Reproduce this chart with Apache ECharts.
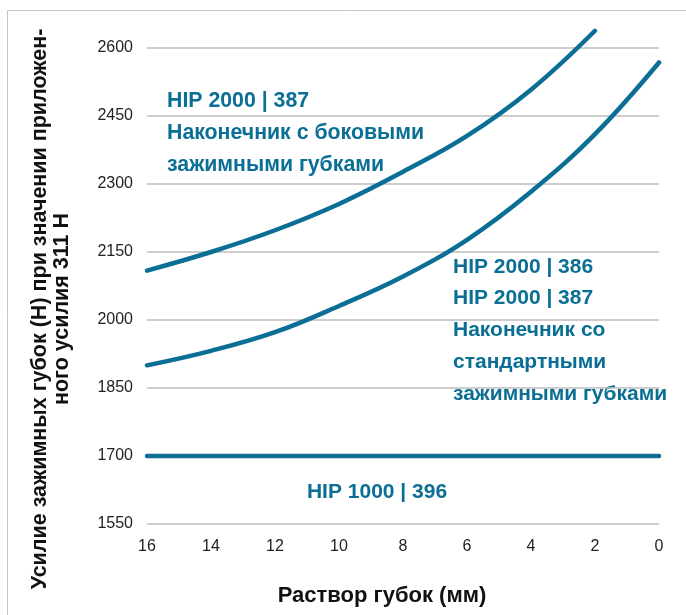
<!DOCTYPE html>
<html>
<head>
<meta charset="utf-8">
<script src="https://cdn.jsdelivr.net/npm/echarts@6/dist/echarts.min.js"></script>
<style>
html,body{margin:0;padding:0;background:#fff;}
#chart{width:686px;height:615px;}
</style>
</head>
<body>
<div id="chart"></div>
<script>
// Data
const xValues = [16, 14, 12, 10, 8, 6, 4, 2, 0];
const yTicks = [1550, 1700, 1850, 2000, 2150, 2300, 2450, 2600];
const sideJaws387 = [2109, 2150, 2198, 2256, 2327, 2406, 2508, 2638];        // x = 16..2
const standardJaws = [1900, 1932, 1973, 2031, 2096, 2177, 2283, 2410, 2568]; // x = 16..0
const hip1000 = [1700, 1700, 1700, 1700, 1700, 1700, 1700, 1700, 1700];      // x = 16..0

const yAxisTitle = 'Усилие зажимных губок (Н) при значении приложен-\nного усилия 311 Н';
const xAxisTitle = 'Раствор губок (мм)';
const label1 = ['HIP 2000 | 387', 'Наконечник с боковыми', 'зажимными губками'];
const label2 = ['HIP 2000 | 386', 'HIP 2000 | 387', 'Наконечник со', 'стандартными', 'зажимными губками'];
const label3 = ['HIP 1000 | 396'];

const BLUE = '#0b6e95';
const FONT = '"Liberation Sans", Arial, Helvetica, sans-serif';

function pairs(vals) { return vals.map((v, i) => [xValues[i], v]); }

const chart = echarts.init(document.getElementById('chart'), null, {renderer: 'canvas'});

const lineStyle = {color: BLUE, width: 4.5, cap: 'round', join: 'round'};

chart.setOption({
  animation: false,
  backgroundColor: '#fff',
  grid: {left: 147, right: 27, top: 48, bottom: 91, containLabel: false},
  xAxis: {
    type: 'value', min: 0, max: 16, interval: 2, inverse: true,
    axisLine: {show: false}, axisTick: {show: false}, splitLine: {show: false},
    axisLabel: {color: '#222', fontSize: 16, fontFamily: FONT, margin: 15, formatter: v => String(v)}
  },
  yAxis: {
    type: 'value', min: yTicks[0], max: yTicks[yTicks.length - 1], interval: 150,
    axisLine: {show: false}, axisTick: {show: false},
    splitLine: {lineStyle: {color: '#bdbdbd', width: 1.5}},
    axisLabel: {color: '#222', fontSize: 16, fontFamily: FONT, margin: 14, formatter: v => String(v)}
  },
  series: [
    {type: 'line', data: pairs(sideJaws387), smooth: 0.4, symbol: 'none', clip: false, lineStyle: lineStyle},
    {type: 'line', data: pairs(standardJaws), smooth: 0.4, symbol: 'none', clip: false, lineStyle: lineStyle},
    {type: 'line', data: pairs(hip1000), symbol: 'none', clip: false, lineStyle: lineStyle}
  ],
  graphic: [
    {type: 'rect', shape: {x: 7.5, y: 10.5, width: 700, height: 620}, style: {fill: 'none', stroke: '#c8c8c8', lineWidth: 1}, silent: true},
    {type: 'text', x: 51, y: 309, rotation: Math.PI / 2,
      style: {text: yAxisTitle, fill: '#111', font: 'bold 21.5px ' + FONT, align: 'center', verticalAlign: 'middle', lineHeight: 22}},
    {type: 'text', x: 382, y: 596,
      style: {text: xAxisTitle, fill: '#111', font: 'bold 22px ' + FONT, align: 'center', verticalAlign: 'middle'}},
    {type: 'text', x: 167, y: 85,
      style: {text: label1.join('\n'), fill: BLUE, font: 'bold 21.3px ' + FONT, align: 'left', verticalAlign: 'top', lineHeight: 32}},
    {type: 'text', x: 453, y: 251,
      style: {text: label2.join('\n'), fill: BLUE, font: 'bold 21px ' + FONT, align: 'left', verticalAlign: 'top', lineHeight: 31.8}},
    {type: 'text', x: 377, y: 492,
      style: {text: label3.join('\n'), fill: BLUE, font: 'bold 21px ' + FONT, align: 'center', verticalAlign: 'middle'}}
  ]
});
</script>
</body>
</html>
